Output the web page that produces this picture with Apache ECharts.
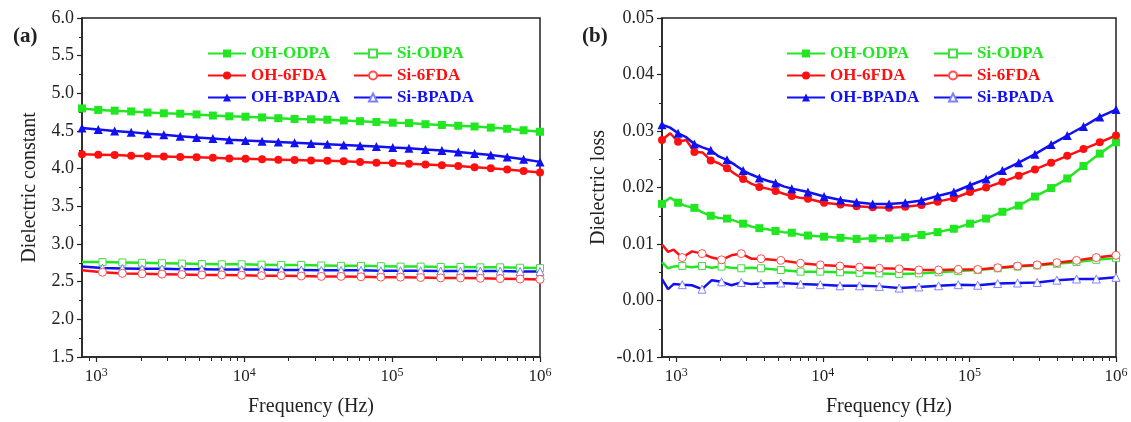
<!DOCTYPE html>
<html>
<head>
<meta charset="utf-8">
<script src="https://cdn.jsdelivr.net/npm/echarts@6/dist/echarts.min.js"></script>
<style>
  html, body { margin: 0; background: #fff; }
  #chart { width: 1131px; height: 422px; }
</style>
</head>
<body>
<div id="chart"></div>
<script>
// frequency points (Hz) carrying markers
var freqOH = [800, 1030, 1330, 1720, 2220, 2860, 3690, 4760, 6140, 7920, 10200, 13200, 17000, 21900, 28300,
              36500, 47100, 60700, 78300, 101000, 130000, 168000, 217000, 280000, 361000, 465000, 600000, 775000, 1000000];
var freqSi = [1100, 1500, 2040, 2780, 3790, 5170, 7050, 9610, 13100, 17800, 24300, 33200, 45200, 61600, 83900,
              114000, 156000, 213000, 290000, 395000, 538000, 734000, 1000000];

// panel (a): dielectric constant
var freqA_Si = [800, 1100, 1500, 2040, 2780, 3790, 5170, 7050, 9610, 13100, 17800, 24300, 33200, 45200, 61600, 83900,
                114000, 156000, 213000, 290000, 395000, 538000, 734000, 1000000];
var constOHODPA = [4.80, 4.78, 4.77, 4.76, 4.745, 4.735, 4.73, 4.72, 4.705, 4.695, 4.69, 4.68, 4.67, 4.66, 4.655,
                   4.65, 4.64, 4.63, 4.62, 4.61, 4.605, 4.59, 4.58, 4.57, 4.56, 4.545, 4.53, 4.51, 4.49];
var constOH6FDA = [4.19, 4.185, 4.18, 4.17, 4.165, 4.16, 4.155, 4.15, 4.145, 4.135, 4.13, 4.125, 4.12, 4.115, 4.11,
                   4.105, 4.10, 4.09, 4.08, 4.075, 4.065, 4.055, 4.045, 4.035, 4.02, 4.005, 3.99, 3.97, 3.95];
var constOHBPADA = [4.54, 4.52, 4.50, 4.485, 4.465, 4.45, 4.43, 4.415, 4.40, 4.385, 4.375, 4.365, 4.355, 4.345, 4.335,
                    4.325, 4.315, 4.305, 4.295, 4.28, 4.27, 4.255, 4.24, 4.22, 4.20, 4.18, 4.155, 4.125, 4.09];
var constSiODPA = [2.76, 2.76, 2.755, 2.75, 2.745, 2.74, 2.735, 2.73, 2.73, 2.725, 2.72, 2.72, 2.715, 2.71, 2.71,
                   2.705, 2.70, 2.70, 2.695, 2.695, 2.69, 2.69, 2.685, 2.68];
var constSi6FDA = [2.65, 2.625, 2.61, 2.605, 2.60, 2.595, 2.59, 2.59, 2.585, 2.58, 2.58, 2.575, 2.57, 2.57, 2.565,
                   2.56, 2.56, 2.555, 2.55, 2.55, 2.545, 2.54, 2.535, 2.53];
var constSiBPADA = [2.70, 2.68, 2.675, 2.67, 2.67, 2.665, 2.665, 2.66, 2.66, 2.66, 2.655, 2.655, 2.65, 2.65, 2.65,
                    2.645, 2.645, 2.645, 2.64, 2.64, 2.64, 2.64, 2.635, 2.635];

// panel (b): dielectric loss (denser at low frequency where the traces are noisy)
var freqB_OH = [800, 909, 1030, 1170, 1330, 1510, 1720, 1950, 2220, 2520, 2860, 3250, 3690, 4190, 4760, 5400, 6140,
                6970, 7920, 10200, 13200, 17000, 21900, 28300, 36500, 47100, 60700, 78300, 101000, 130000, 168000,
                217000, 280000, 361000, 465000, 600000, 775000, 1000000];
var lossOHODPA = [0.0171, 0.0182, 0.0173, 0.0167, 0.0164, 0.0156, 0.0150, 0.0146, 0.0145, 0.0141, 0.0136, 0.0131,
                  0.0128, 0.0126, 0.0123, 0.0121, 0.0120, 0.0117, 0.0115, 0.0113, 0.0111, 0.0109, 0.0110, 0.0110,
                  0.0112, 0.0116, 0.0121, 0.0127, 0.0136, 0.0145, 0.0157, 0.0168, 0.0184, 0.0199, 0.0216, 0.0238,
                  0.0260, 0.0280];
var lossOH6FDA = [0.0284, 0.0296, 0.0281, 0.0284, 0.0263, 0.0262, 0.0248, 0.0243, 0.0234, 0.0224, 0.0215, 0.0207,
                  0.0201, 0.0198, 0.0194, 0.0189, 0.0185, 0.0182, 0.0180, 0.0173, 0.0170, 0.0167, 0.0165, 0.0164,
                  0.0166, 0.0169, 0.0175, 0.0181, 0.0192, 0.0200, 0.0210, 0.0221, 0.0232, 0.0244, 0.0256, 0.0268,
                  0.0280, 0.0292];
var lossOHBPADA = [0.0311, 0.0306, 0.0296, 0.0289, 0.0277, 0.0271, 0.0266, 0.0255, 0.0249, 0.0240, 0.0230, 0.0223,
                   0.0217, 0.0212, 0.0208, 0.0202, 0.0198, 0.0195, 0.0192, 0.0184, 0.0178, 0.0174, 0.0171, 0.0171,
                   0.0173, 0.0177, 0.0185, 0.0192, 0.0204, 0.0215, 0.0230, 0.0244, 0.0259, 0.0276, 0.0292, 0.0308,
                   0.0325, 0.0338];
var freqB_Si = [800, 880, 960, 1100, 1280, 1500, 1750, 2040, 2380, 2780, 3250, 3790, 5170, 7050, 9610, 13100, 17800,
                24300, 33200, 45200, 61600, 83900, 114000, 156000, 213000, 290000, 395000, 538000, 734000, 1000000];
var lossSiODPA = [0.0068, 0.0057, 0.0060, 0.0061, 0.0059, 0.0061, 0.0058, 0.0060, 0.0058, 0.0057, 0.0058, 0.0057,
                  0.0054, 0.0051, 0.0051, 0.0050, 0.0049, 0.0048, 0.0047, 0.0048, 0.0050, 0.0052, 0.0054, 0.0057,
                  0.0060, 0.0062, 0.0065, 0.0068, 0.0072, 0.0075];
var lossSi6FDA = [0.0099, 0.0086, 0.0090, 0.0076, 0.0087, 0.0083, 0.0076, 0.0072, 0.0080, 0.0083, 0.0074, 0.0074,
                  0.0071, 0.0066, 0.0063, 0.0061, 0.0059, 0.0057, 0.0056, 0.0054, 0.0054, 0.0055, 0.0055, 0.0058,
                  0.0061, 0.0063, 0.0067, 0.0071, 0.0076, 0.0080];
var lossSiBPADA = [0.0038, 0.0020, 0.0029, 0.0028, 0.0027, 0.0020, 0.0036, 0.0033, 0.0027, 0.0032, 0.0029, 0.0030,
                   0.0031, 0.0029, 0.0028, 0.0026, 0.0026, 0.0025, 0.0022, 0.0024, 0.0026, 0.0028, 0.0027, 0.0030,
                   0.0031, 0.0032, 0.0036, 0.0038, 0.0038, 0.0041];

var majorTicks = [1000, 10000, 100000, 1000000];
var minorTicks = [900, 2000, 3000, 4000, 5000, 6000, 7000, 8000, 9000, 20000, 30000, 40000, 50000, 60000, 70000,
                  80000, 90000, 200000, 300000, 400000, 500000, 600000, 700000, 800000, 900000];

var FONT = "'Liberation Serif','Times New Roman',serif";
var INK = "#222";
var GREEN = "#22e622", RED = "#ff1010", BLUE = "#1010f0";

var styles = {
  "OH-ODPA":  { color: GREEN, symbol: "rect", size: 8 },
  "OH-6FDA":  { color: RED, symbol: "circle", size: 8 },
  "OH-BPADA": { color: BLUE, symbol: "triangle", size: 9 },
  "Si-ODPA":  { color: GREEN, edge: "#44dd44", symbol: "rect", size: 7, hollow: true },
  "Si-6FDA":  { color: RED, edge: "#ff5050", symbol: "circle", size: 8, hollow: true },
  "Si-BPADA": { color: BLUE, edge: "#8080ff", symbol: "triangle", size: 8, hollow: true }
};

var grids = [
  { left: 82, right: 591, top: 18, bottom: 64 },
  { left: 662, right: 15, top: 18, bottom: 64 }
];

function mkSeries(name, xs, ys, marks, idx) {
  var st = styles[name];
  var has = {};
  marks.forEach(function(f) { has[f] = true; });
  return {
    name: name, type: "line", xAxisIndex: idx, yAxisIndex: idx,
    symbol: st.symbol, symbolSize: st.size, showSymbol: true,
    lineStyle: { color: st.color, width: 2.5 },
    itemStyle: st.hollow ? { color: "#fff", borderColor: st.edge, borderWidth: 1 } : { color: st.color },
    emphasis: { disabled: true },
    data: xs.map(function(f, i) {
      var d = { value: [f, ys[i]] };
      if (!has[f]) d.symbol = "none";
      return d;
    })
  };
}

function xMain(gi) {
  return {
    type: "log", gridIndex: gi, min: 800, max: 1000000,
    name: "Frequency (Hz)", nameLocation: "middle", nameGap: 40,
    nameTextStyle: { fontFamily: FONT, fontSize: 20, color: INK },
    axisLine: { onZero: false, lineStyle: { color: INK, width: 1.5 } },
    axisTick: { customValues: majorTicks, length: 5, lineStyle: { color: INK, width: 1.2 } },
    axisLabel: {
      customValues: majorTicks, margin: 10, color: INK, fontFamily: FONT, fontSize: 17,
      formatter: function(v) { return "10{s|" + Math.round(Math.log10(v)) + "}"; },
      rich: { s: { fontFamily: FONT, fontSize: 12, color: INK, padding: [0, 0, 8, 0] } }
    },
    splitLine: { show: false }
  };
}

function xMinor(gi) {
  return {
    type: "log", gridIndex: gi, min: 800, max: 1000000,
    axisLine: { show: false, onZero: false },
    axisTick: { customValues: minorTicks, length: 3, lineStyle: { color: INK, width: 1 } },
    axisLabel: { show: false },
    splitLine: { show: false }
  };
}

function yMain(gi, min, max, step, digits, title, gap) {
  return {
    type: "value", gridIndex: gi, min: min, max: max, interval: step,
    name: title, nameLocation: "middle", nameGap: gap,
    nameTextStyle: { fontFamily: FONT, fontSize: 20, color: INK },
    axisLine: { show: true, onZero: false, lineStyle: { color: INK, width: 1.5 } },
    axisTick: { show: true, length: 5, lineStyle: { color: INK, width: 1.2 } },
    minorTick: { show: true, splitNumber: 2, length: 3, lineStyle: { color: INK, width: 1 } },
    axisLabel: { color: INK, fontFamily: FONT, fontSize: 18, margin: 8,
      formatter: function(v) { return v.toFixed(digits); } },
    splitLine: { show: false }
  };
}

function legendCol(names, left) {
  return {
    orient: "vertical", left: left, top: 40, itemWidth: 38, itemHeight: 10, itemGap: 5,
    selectedMode: false,
    textStyle: { fontFamily: FONT, fontSize: 17, fontWeight: "bold", lineHeight: 17 },
    data: names.map(function(n) { return { name: n, textStyle: { color: styles[n].color } }; })
  };
}

var chart = echarts.init(document.getElementById("chart"), null, { renderer: "canvas" });
chart.setOption({
  animation: false,
  backgroundColor: "#fff",
  title: [
    { text: "(a)", left: 8, top: 21, textStyle: { fontFamily: FONT, fontSize: 21, fontWeight: "bold", color: INK } },
    { text: "(b)", left: 577, top: 21, textStyle: { fontFamily: FONT, fontSize: 21, fontWeight: "bold", color: INK } }
  ],
  grid: [
    Object.assign({ show: true, borderColor: INK, borderWidth: 1.5 }, grids[0]),
    Object.assign({ show: true, borderColor: INK, borderWidth: 1.5 }, grids[1]),
    grids[0], grids[1]
  ],
  legend: [
    legendCol(["OH-ODPA", "OH-6FDA", "OH-BPADA"], 202),
    legendCol(["Si-ODPA", "Si-6FDA", "Si-BPADA"], 348),
    legendCol(["OH-ODPA", "OH-6FDA", "OH-BPADA"], 781),
    legendCol(["Si-ODPA", "Si-6FDA", "Si-BPADA"], 928)
  ],
  xAxis: [xMain(0), xMain(1), xMinor(2), xMinor(3)],
  yAxis: [
    yMain(0, 1.5, 6.0, 0.5, 1, "Dielectric constant", 42),
    yMain(1, -0.01, 0.05, 0.01, 2, "Dielectric loss", 53),
    { type: "value", gridIndex: 2, min: 1.5, max: 6.0, show: false },
    { type: "value", gridIndex: 3, min: -0.01, max: 0.05, show: false }
  ],
  series: [
    mkSeries("Si-ODPA", freqA_Si, constSiODPA, freqSi, 0),
    mkSeries("Si-BPADA", freqA_Si, constSiBPADA, freqSi, 0),
    mkSeries("Si-6FDA", freqA_Si, constSi6FDA, freqSi, 0),
    mkSeries("OH-ODPA", freqOH, constOHODPA, freqOH, 0),
    mkSeries("OH-BPADA", freqOH, constOHBPADA, freqOH, 0),
    mkSeries("OH-6FDA", freqOH, constOH6FDA, freqOH, 0),
    mkSeries("Si-BPADA", freqB_Si, lossSiBPADA, freqSi, 1),
    mkSeries("Si-ODPA", freqB_Si, lossSiODPA, freqSi, 1),
    mkSeries("Si-6FDA", freqB_Si, lossSi6FDA, freqSi, 1),
    mkSeries("OH-ODPA", freqB_OH, lossOHODPA, freqOH, 1),
    mkSeries("OH-6FDA", freqB_OH, lossOH6FDA, freqOH, 1),
    mkSeries("OH-BPADA", freqB_OH, lossOHBPADA, freqOH, 1)
  ]
});
window.addEventListener("resize", function() { chart.resize(); });
</script>
</body>
</html>
